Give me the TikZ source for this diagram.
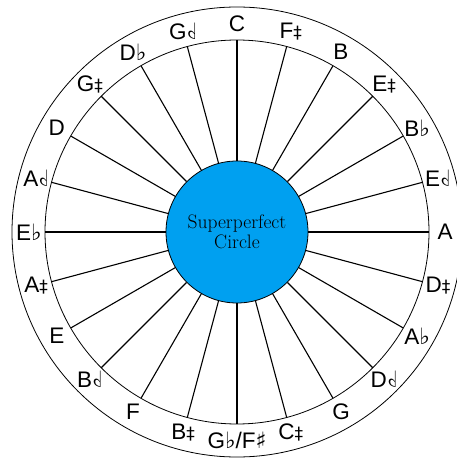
\documentclass[tikz,border=0pt]{standalone}
\usepackage{fontspec}
\usepackage{graphicx}
\usepackage{tikz}
\usetikzlibrary{positioning}
\setsansfont{Liberation Sans}
\newfontfamily\accfont{DejaVu Sans}
\definecolor{hubblue}{RGB}{0,160,240}
\newcommand{\nflat}{{\accfont ♭}}
\newcommand{\nsharp}{{\accfont ♯}}
\newcommand{\nhsharp}{{\accfont\fontsize{17}{17}\selectfont ‡}}
\newcommand{\nhflat}{\reflectbox{\accfont ♭}}

\begin{document}
\begin{tikzpicture}[
        x=1pt, y=1pt,
        ring/.style = {draw=black, line width=0.8pt},
        spoke/.style = {draw=black, line width=1.1pt},
        hub/.style = {circle, draw=black, line width=0.8pt, fill=hubblue, minimum size=142pt, inner sep=0pt, align=center, font=\fontsize{19.5}{20}\selectfont},
        notelabel/.style = {inner sep=0pt, font=\sffamily\fontsize{22.5}{22.5}\selectfont}
    ]
        \useasboundingbox (-237,-228) rectangle (220,232);

        % Rings
        \draw [ring] (0,0) circle [radius=225pt];
        \draw [ring] (0,0) circle [radius=192pt];

        % Center
        \node (hub) [hub] at (0,0) {Superperfect\\Circle};

        % Spokes and note names
        \foreach \lbl [count=\i from 0, evaluate=\i as \a using 90-15*\i] in
            {C, F\nhsharp, B, E\nhsharp, B\nflat, E\nhflat, A, D\nhsharp, A\nflat, D\nhflat, G, C\nhsharp,
             {G\nflat/F\nsharp}, B\nhsharp, F, B\nhflat, E, A\nhsharp, E\nflat, A\nhflat, D, G\nhsharp, D\nflat, G\nhflat} {
            \coordinate (s\i) at (\a:192pt);
            \draw [spoke] (hub.\a) -- (s\i);
            \node (l\i) [notelabel] at (\a:208pt) {\lbl};
        }

    \end{tikzpicture}
\end{document}
